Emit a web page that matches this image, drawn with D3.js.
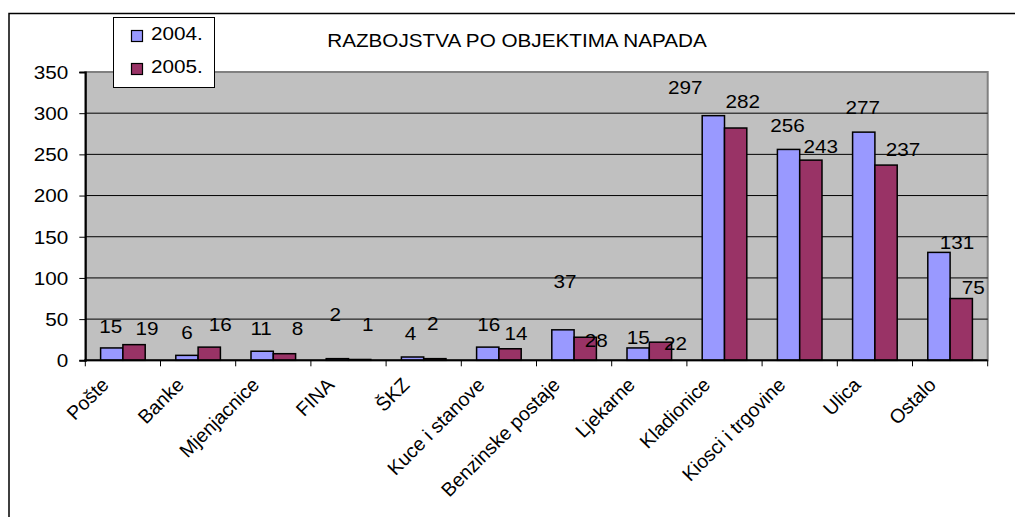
<!DOCTYPE html>
<meta charset="utf-8">
<style>
body {
    margin: 0;
    padding: 0;
    background: #fff;
}
text {
    font-family: "Liberation Sans", Arial, sans-serif;
    font-size: 18px;
    fill: #000;
}
</style>
<svg width="1015" height="517"></svg>
<script src="https://cdn.jsdelivr.net/npm/d3@7"></script>
<script>
// chart data
var categories = ["Pošte", "Banke", "Mjenjacnice", "FINA", "ŠKZ", "Kuce i stanove",
    "Benzinske postaje", "Ljekarne", "Kladionice", "Kiosci i trgovine", "Ulica", "Ostalo"];
var years = ["2004.", "2005."];
var values2004 = [15, 6, 11, 2, 4, 16, 37, 15, 297, 256, 277, 131];
var values2005 = [19, 16, 8, 1, 2, 14, 28, 22, 282, 243, 237, 75];
var yTicks = [0, 50, 100, 150, 200, 250, 300, 350];
var title = "RAZBOJSTVA PO OBJEKTIMA NAPADA";

// the source puts its value labels a bit off the bar tops, [dx, dy] per label
var nudge2004 = [[-1, -10], [0, -11], [-1, -11], [-2, -33], [-2, -12], [1, -11],
    [2, -37], [0, 1], [-28, -17], [-1, -12], [-1, -13], [18, 2]];
var nudge2005 = [[13, -5], [11, -11], [13, -14], [8, -23], [-2, -24], [6, -4],
    [11, 15], [15, 13], [7, -15], [10, -2], [17, -4], [12, 0]];

var colors = {"2004.": "#9999ff", "2005.": "#993366"};
var STRETCH = "scale(1.15,1)"; // the original text is drawn wide

var svg = d3.select("svg");

var plotLeft = 85.3, plotRight = 987.7, plotTop = 72, plotBottom = 360.3;

var x = d3.scaleBand().domain(categories).range([plotLeft, plotRight]);
var x1 = d3.scaleBand().domain(years).range([0, x.bandwidth()]).paddingOuter(0.686);
var y = d3.scaleLinear().domain([0, 350]).range([plotBottom, plotTop]);

// outer chart frame (runs off the right and bottom)
svg.append("rect")
    .attr("x", 9).attr("y", 13.5)
    .attr("width", 1100).attr("height", 600)
    .attr("fill", "none").attr("stroke", "#000").attr("stroke-width", 1.5);

// plot area
svg.append("rect")
    .attr("x", plotLeft).attr("y", plotTop)
    .attr("width", plotRight - plotLeft).attr("height", plotBottom - plotTop)
    .attr("fill", "#c0c0c0").attr("stroke", "#808080").attr("stroke-width", 2);

// gridlines
svg.append("g").selectAll("line")
    .data(yTicks.filter(function(t) { return t > 0 && t < 350; }))
    .enter().append("line")
    .attr("x1", plotLeft).attr("x2", plotRight)
    .attr("y1", function(d) { return y(d); }).attr("y2", function(d) { return y(d); })
    .attr("stroke", "#000").attr("stroke-width", 1);

// bars
var data = categories.map(function(c, i) {
    return {cat: c, i: i, vals: [
        {year: "2004.", v: values2004[i], n: nudge2004[i]},
        {year: "2005.", v: values2005[i], n: nudge2005[i]}
    ]};
});

var groups = svg.append("g").selectAll("g")
    .data(data)
    .enter().append("g")
    .attr("transform", function(d) { return "translate(" + x(d.cat) + ",0)"; });

groups.selectAll("rect")
    .data(function(d) { return d.vals; })
    .enter().append("rect")
    .attr("x", function(d) { return x1(d.year); })
    .attr("y", function(d) { return y(d.v); })
    .attr("width", x1.bandwidth())
    .attr("height", function(d) { return plotBottom - y(d.v); })
    .attr("fill", function(d) { return colors[d.year]; })
    .attr("stroke", "#000").attr("stroke-width", 1.5);

// value labels
groups.selectAll("text")
    .data(function(d) { return d.vals; })
    .enter().append("text")
    .attr("text-anchor", "middle")
    .attr("transform", function(d) {
        var cx = x1(d.year) + x1.bandwidth() / 2 + d.n[0];
        var by = y(d.v) - 5 + d.n[1];
        return "translate(" + cx + "," + by + ") " + STRETCH;
    })
    .text(function(d) { return d.v; });

// y axis
var yAxis = svg.append("g")
    .attr("transform", "translate(" + plotLeft + ",0)")
    .call(d3.axisLeft(y).tickValues(yTicks).tickSize(6).tickPadding(11));
yAxis.select(".domain").attr("stroke", "#000").attr("stroke-width", 2);
yAxis.selectAll(".tick line").attr("stroke", "#000");
yAxis.attr("font-family", null).attr("font-size", null);
yAxis.selectAll(".tick text")
    .attr("x", null).attr("dy", "0.35em")
    .attr("transform", "translate(-17,0) " + STRETCH);

// x axis line and boundary ticks
svg.append("line")
    .attr("x1", plotLeft - 1).attr("x2", plotRight)
    .attr("y1", plotBottom).attr("y2", plotBottom)
    .attr("stroke", "#000").attr("stroke-width", 2);

var bounds = categories.map(function(c) { return x(c); }).concat([plotRight]);
svg.append("g").selectAll("line")
    .data(bounds)
    .enter().append("line")
    .attr("x1", function(d) { return d; }).attr("x2", function(d) { return d; })
    .attr("y1", plotBottom).attr("y2", plotBottom + 6)
    .attr("stroke", "#000").attr("stroke-width", 1);

// rotated category labels
svg.append("g").selectAll("text")
    .data(categories)
    .enter().append("text")
    .attr("text-anchor", "end")
    .style("font-size", "19.5px")
    .attr("transform", function(d) {
        return "translate(" + (x(d) + x.bandwidth() / 2 - 13) + ",386) rotate(-45)";
    })
    .text(function(d) { return d; });

// title
svg.append("text")
    .attr("text-anchor", "middle")
    .attr("transform", "translate(517,46.5) " + STRETCH)
    .text(title);

// legend
var legend = svg.append("g");
legend.append("rect")
    .attr("x", 113.5).attr("y", 17.5)
    .attr("width", 101).attr("height", 70)
    .attr("fill", "#fff").attr("stroke", "#000").attr("stroke-width", 1);

var items = legend.selectAll("g")
    .data(years)
    .enter().append("g")
    .attr("transform", function(d, i) { return "translate(0," + (i * 33) + ")"; });
items.append("rect")
    .attr("x", 131.5).attr("y", 30.5)
    .attr("width", 11).attr("height", 11)
    .attr("fill", function(d) { return colors[d]; })
    .attr("stroke", "#000").attr("stroke-width", 1.2);
items.append("text")
    .attr("transform", "translate(151,40) " + STRETCH)
    .text(function(d) { return d; });
</script>
